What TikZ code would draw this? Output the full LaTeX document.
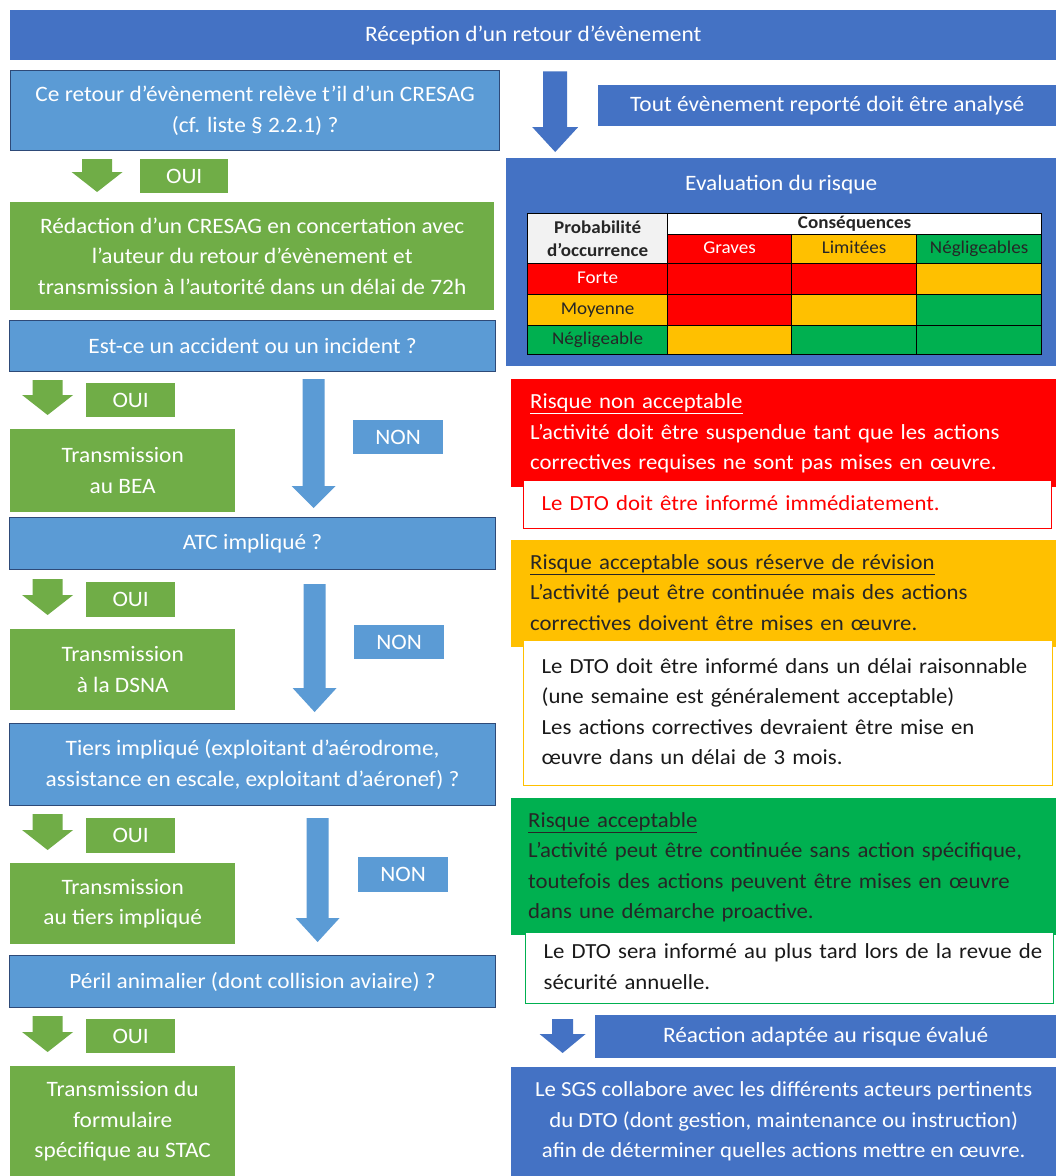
\documentclass[tikz,border=0pt]{standalone}
\usepackage{fontspec}
\setmainfont{Carlito}[FakeStretch=1.06]
\usetikzlibrary{calc}

\definecolor{flowblue}{HTML}{5B9BD5}
\definecolor{darkblue}{HTML}{4472C4}
\definecolor{edgeblue}{HTML}{2E4A78}
\definecolor{leafgreen}{HTML}{70AD47}
\definecolor{riskred}{HTML}{FF0000}
\definecolor{riskorange}{HTML}{FFC000}
\definecolor{riskgreen}{HTML}{00B050}
\definecolor{headgray}{HTML}{F2F2F2}

\newcommand{\boxfont}{\fontsize{22}{30.5}\selectfont}
\newcommand{\riskfont}{\fontsize{21.5}{30.5}\selectfont}
\newcommand{\cellfont}{\fontsize{18}{23}\selectfont}
% lines that must not wrap
\newcommand{\risklines}[1]{\begin{tabular}{@{}l@{}}#1\end{tabular}}

% block arrow: colour, shaft, head, head length, from, to
\newcommand{\blockarrow}[6]{%
  \fill[#1] let \p1=(#5), \p2=(#6) in
    (\x1-#2*0.5pt,\y1) -- (\x1+#2*0.5pt,\y1) -- (\x1+#2*0.5pt,\y2+#4pt)
    -- (\x1+#3*0.5pt,\y2+#4pt) -- (\x1,\y2) -- (\x1-#3*0.5pt,\y2+#4pt)
    -- (\x1-#2*0.5pt,\y2+#4pt) -- cycle;}

\begin{document}
\begin{tikzpicture}[x=1pt,y=-1pt,
    blue box/.style={draw=edgeblue, line width=1.2pt, fill=flowblue, text=white, align=center, inner sep=0pt, anchor=north west},
    dark box/.style={fill=darkblue, text=white, align=center, inner sep=0pt, anchor=north west},
    green box/.style={fill=leafgreen, text=white, align=center, inner sep=0pt, anchor=north west},
    risk box/.style={align=left, inner xsep=19pt, inner ysep=0pt, anchor=north west, font=\riskfont},
    note box/.style={fill=white, line width=1.2pt, align=left, inner xsep=18pt, inner ysep=0pt, anchor=north west, text=black!90, font=\riskfont},
    table cell/.style={draw=black, line width=1.2pt, inner sep=0pt, anchor=north west, font=\cellfont, text=black!85},
    row cell/.style={table cell, text height=12.5pt, text depth=4pt}]
  \tikzstyle{every node}=[font=\boxfont]

  \fill[white] (0,0) rectangle (1056,1176);
  \useasboundingbox (0,0) rectangle (1056,1176);

  % left column
  \node[dark box, minimum width=1046pt, minimum height=50pt] (top) at (10,10) {Réception d’un retour d’évènement};
  \node[blue box, minimum width=489pt, minimum height=80pt] (q1) at (10,70) {Ce retour d’évènement relève t’il d’un CRESAG\\(cf. liste § 2.2.1) ?};
  \node[green box, minimum width=88pt, minimum height=34pt] (oui1) at (140,159) {OUI};
  \node[green box, minimum width=484pt, minimum height=108pt] (r1) at (10,202) {Rédaction d’un CRESAG en concertation avec\\l’auteur du retour d’évènement et\\transmission à l’autorité dans un délai de 72h};
  \node[blue box, minimum width=486pt, minimum height=51pt] (q2) at (9,320) {Est-ce un accident ou un incident ?};
  \node[green box, minimum width=89pt, minimum height=34pt] (oui2) at (86,383) {OUI};
  \node[green box, minimum width=225pt, minimum height=83pt] (g2) at (10,429) {Transmission\\au BEA};
  \node[dark box, fill=flowblue, minimum width=90pt, minimum height=34pt] (non1) at (353,420) {NON};
  \node[blue box, minimum width=486pt, minimum height=52pt] (q3) at (9,517) {ATC impliqué ?};
  \node[green box, minimum width=89pt, minimum height=35pt] (oui3) at (86,582) {OUI};
  \node[green box, minimum width=225pt, minimum height=81pt] (g3) at (10,629) {Transmission\\à la DSNA};
  \node[dark box, fill=flowblue, minimum width=90pt, minimum height=34pt] (non2) at (354,625) {NON};
  \node[blue box, minimum width=486pt, minimum height=82pt] (q4) at (9,723) {Tiers impliqué (exploitant d’aérodrome,\\assistance en escale, exploitant d’aéronef) ?};
  \node[green box, minimum width=89pt, minimum height=35pt] (oui4) at (86,818) {OUI};
  \node[green box, minimum width=225pt, minimum height=81pt] (g4) at (10,863) {Transmission\\au tiers impliqué};
  \node[dark box, fill=flowblue, minimum width=90pt, minimum height=35pt] (non3) at (358,857) {NON};
  \node[blue box, minimum width=486pt, minimum height=52pt] (q5) at (9,955) {Péril animalier (dont collision aviaire) ?};
  \node[green box, minimum width=89pt, minimum height=34pt] (oui5) at (86,1019) {OUI};
  \node[green box, minimum width=225pt, minimum height=110pt] (g5) at (10,1066) {Transmission du\\formulaire\\spécifique au STAC};

  % right column
  \node[dark box, minimum width=458pt, minimum height=41pt] (tout) at (598,85) {Tout évènement reporté doit être analysé};
  \node[dark box, minimum width=550pt, minimum height=208pt] (eval) at (506,158) {};
  \node (evaltitle) at ($(eval.north)+(0,27)$) [text=white] {Evaluation du risque};

  \node[table cell, fill=headgray, minimum width=140pt, minimum height=50pt, align=center, font=\cellfont\bfseries] (prob) at (527,213) {Probabilité\\d’occurrence};
  \node[row cell, fill=white, minimum width=374pt, minimum height=21pt, font=\cellfont\bfseries, text height=11pt, text depth=3pt] (cons) at (667,213) {Conséquences};
  \node[row cell, fill=riskred, text=white, minimum width=124pt, minimum height=29pt] (graves) at (667,234) {Graves};
  \node[row cell, fill=riskorange, minimum width=125pt, minimum height=29pt] (limitees) at (791,234) {Limitées};
  \node[row cell, fill=riskgreen, minimum width=125pt, minimum height=29pt] (neglcol) at (916,234) {Négligeables};
  \node[row cell, fill=riskred, text=white, minimum width=140pt, minimum height=31pt] (forte) at (527,263) {Forte};
  \node[row cell, fill=riskorange, minimum width=140pt, minimum height=31pt] (moyenne) at (527,294) {Moyenne};
  \node[row cell, fill=riskgreen, minimum width=140pt, minimum height=29pt] (neglrow) at (527,325) {Négligeable};
  \node[table cell, fill=riskred, minimum width=124pt, minimum height=31pt] (c11) at (667,263) {};
  \node[table cell, fill=riskred, minimum width=125pt, minimum height=31pt] (c12) at (791,263) {};
  \node[table cell, fill=riskorange, minimum width=125pt, minimum height=31pt] (c13) at (916,263) {};
  \node[table cell, fill=riskred, minimum width=124pt, minimum height=31pt] (c21) at (667,294) {};
  \node[table cell, fill=riskorange, minimum width=125pt, minimum height=31pt] (c22) at (791,294) {};
  \node[table cell, fill=riskgreen, minimum width=125pt, minimum height=31pt] (c23) at (916,294) {};
  \node[table cell, fill=riskorange, minimum width=124pt, minimum height=29pt] (c31) at (667,325) {};
  \node[table cell, fill=riskgreen, minimum width=125pt, minimum height=29pt] (c32) at (791,325) {};
  \node[table cell, fill=riskgreen, minimum width=125pt, minimum height=29pt] (c33) at (916,325) {};

  \node[risk box, fill=riskred, text=white, text width=507pt, minimum height=108pt] (red) at (511,379)
    {\risklines{\underline{Risque non acceptable}\\L’activité doit être suspendue tant que les actions\\correctives requises ne sont pas mises en œuvre.}};
  \node[note box, draw=riskred, text=riskred, text width=492pt, minimum height=48pt] (rednote) at (523,480)
    {\risklines{Le DTO doit être informé immédiatement.}};
  \node[risk box, fill=riskorange, text=black!85, text width=507pt, minimum height=107pt] (orange) at (511,540)
    {\risklines{\underline{Risque acceptable sous réserve de révision}\\L’activité peut être continuée mais des actions\\correctives doivent être mises en œuvre.}};
  \node[note box, draw=riskorange, text width=493pt, minimum height=145pt] (orangenote) at (523,640)
    {\risklines{Le DTO doit être informé dans un délai raisonnable\\(une semaine est généralement acceptable)\\Les actions correctives devraient être mise en\\œuvre dans un délai de 3 mois.}};
  \node[risk box, fill=riskgreen, text=black!85, inner xsep=17pt, text width=511pt, minimum height=137pt] (green) at (511,798)
    {\risklines{\underline{Risque acceptable}\\L’activité peut être continuée sans action spécifique,\\toutefois des actions peuvent être mises en œuvre\\dans une démarche proactive.}};
  \node[note box, draw=riskgreen, text width=492pt, minimum height=71pt] (greennote) at (525,932)
    {\risklines{Le DTO sera informé au plus tard lors de la revue de\\sécurité annuelle.}};
  \node[dark box, minimum width=461pt, minimum height=43pt] (reaction) at (595,1015) {Réaction adaptée au risque évalué};
  \node[dark box, minimum width=545pt, minimum height=109pt, font=\riskfont] (sgs) at (511,1067)
    {Le SGS collabore avec les différents acteurs pertinents\\du DTO (dont gestion, maintenance ou instruction)\\afin de déterminer quelles actions mettre en œuvre.};

  % arrows
  \blockarrow{darkblue}{24}{46}{25}{$(top.south)+(22,11)$}{$(eval.north)+(0,-6)$}
  \blockarrow{leafgreen}{30}{51}{20}{$(q1.south)+(-158,8)$}{$(r1.north)+(0,-10)$}
  \blockarrow{leafgreen}{30}{51}{20}{$(q2.south)+(-205,8)$}{$(g2.north)+(0,-14)$}
  \blockarrow{leafgreen}{30}{51}{20}{$(q3.south)+(-205,9)$}{$(g3.north)+(0,-14)$}
  \blockarrow{leafgreen}{30}{51}{20}{$(q4.south)+(-205,8)$}{$(g4.north)+(0,-13)$}
  \blockarrow{leafgreen}{30}{51}{20}{$(q5.south)+(-205,8)$}{$(g5.north)+(0,-14)$}
  \blockarrow{flowblue}{22}{44}{22}{$(q2.south)+(61,7)$}{$(q3.north)+(0,-9)$}
  \blockarrow{flowblue}{22}{44}{24}{$(q3.south)+(62,14)$}{$(q4.north)+(0,-11)$}
  \blockarrow{flowblue}{22}{44}{24}{$(q4.south)+(65,12)$}{$(q5.north)+(0,-13)$}
  \blockarrow{darkblue}{21}{46}{19}{$(greennote.south)+(-227,15)$}{$(sgs.north)+(0,-14)$}
\end{tikzpicture}
\end{document}
